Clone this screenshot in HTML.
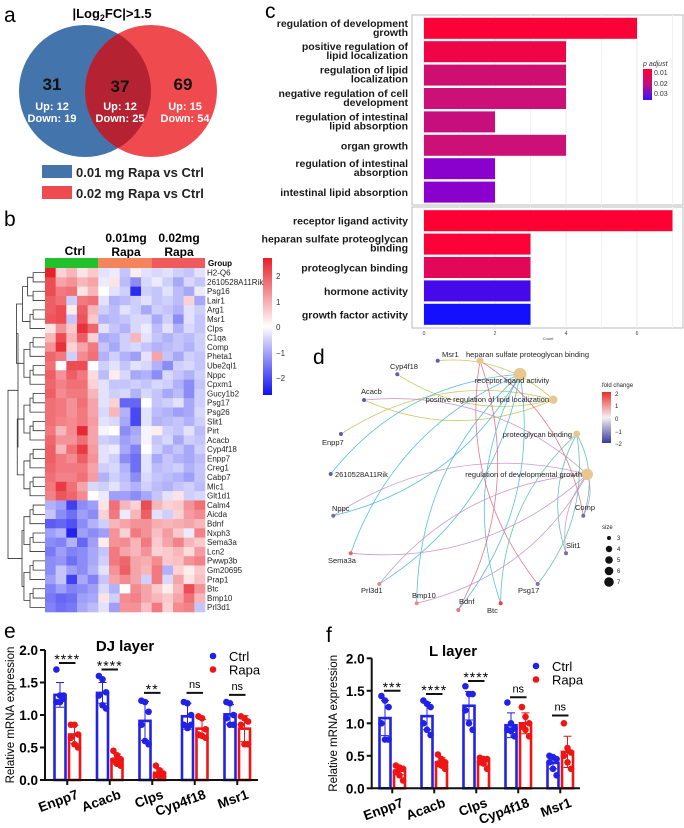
<!DOCTYPE html>
<html><head><meta charset="utf-8">
<style>
html,body{margin:0;padding:0;background:#fff;}
svg{display:block;font-family:"Liberation Sans",sans-serif;}
</style></head>
<body>
<svg id="fig" width="684" height="828" viewBox="0 0 684 828" xmlns="http://www.w3.org/2000/svg">
<defs>
<clipPath id="blueClip"><circle cx="85" cy="91" r="66"/></clipPath>
<linearGradient id="hmGrad" x1="0" y1="0" x2="0" y2="1">
<stop offset="0" stop-color="#e8202a"/><stop offset="0.5" stop-color="#ffffff"/><stop offset="1" stop-color="#1010f0"/></linearGradient>
<linearGradient id="pGrad" x1="0" y1="0" x2="0" y2="1">
<stop offset="0" stop-color="#ff0033"/><stop offset="0.5" stop-color="#c0107f"/><stop offset="1" stop-color="#3a10ff"/></linearGradient>
<linearGradient id="fcGrad" x1="0" y1="0" x2="0" y2="1">
<stop offset="0" stop-color="#e8302a"/><stop offset="0.5" stop-color="#f4f0f4"/><stop offset="1" stop-color="#3a3a9a"/></linearGradient>
</defs>

<!-- Panel a -->
<g>
<text x="4" y="22" font-size="21">a</text>
<text x="112" y="18" font-size="13" font-weight="bold" text-anchor="middle">|Log<tspan font-size="9" dy="3">2</tspan><tspan dy="-3">FC|&gt;1.5</tspan></text>
<circle cx="85" cy="91" r="66" fill="#4474ac"/>
<circle cx="151" cy="91" r="66" fill="#ef4a4e"/>
<circle cx="151" cy="91" r="66" fill="#b52232" clip-path="url(#blueClip)"/>
<g font-weight="bold" text-anchor="middle">
<text x="52" y="90" font-size="17" fill="#111">31</text>
<text x="120" y="92" font-size="17" fill="#111">37</text>
<text x="183" y="90" font-size="17" fill="#111">69</text>
<g font-size="11" fill="#fff">
<text x="52" y="110">Up: 12</text>
<text x="52" y="122">Down: 19</text>
<text x="120" y="110">Up: 12</text>
<text x="120" y="122">Down: 25</text>
<text x="185" y="110">Up: 15</text>
<text x="185" y="122">Down: 54</text>
</g></g>
<rect x="42" y="165" width="30" height="13" fill="#4474ac"/>
<text x="76" y="177" font-size="13" font-weight="bold" fill="#222">0.01 mg Rapa vs Ctrl</text>
<rect x="42" y="186" width="30" height="13" fill="#ef4a4e"/>
<text x="76" y="198" font-size="13" font-weight="bold" fill="#222">0.02 mg Rapa vs Ctrl</text>
</g>

<!-- Panel b -->
<g id="panelB">
<text x="4" y="226" font-size="21">b</text>
<text x="75" y="255" font-size="12" font-weight="bold" text-anchor="middle">Ctrl</text>
<text x="126" y="242" font-size="12" font-weight="bold" text-anchor="middle">0.01mg</text>
<text x="126" y="256" font-size="12" font-weight="bold" text-anchor="middle">Rapa</text>
<text x="179" y="242" font-size="12" font-weight="bold" text-anchor="middle">0.02mg</text>
<text x="179" y="256" font-size="12" font-weight="bold" text-anchor="middle">Rapa</text>
<rect x="45" y="258" width="53.3" height="10" fill="#22c02a"/>
<rect x="98.3" y="258" width="53.3" height="10" fill="#f4845c"/>
<rect x="151.6" y="258" width="53.4" height="10" fill="#f05a5a"/>
<text x="208" y="266" font-size="8" font-weight="bold">Group</text>
<rect x="263" y="258" width="9" height="137" fill="url(#hmGrad)"/>
<g font-size="8" fill="#333">
<text x="276" y="279">2</text>
<text x="276" y="305">1</text>
<text x="276" y="330">0</text>
<text x="276" y="356">−1</text>
<text x="276" y="381">−2</text>
</g>
</g>

<!-- Panel c -->
<g id="panelC">
<text x="265" y="18" font-size="21">c</text>
<rect x="412" y="15" width="271" height="190" fill="#fff" stroke="#bbb"/>
<rect x="412" y="207" width="271" height="121" fill="#fff" stroke="#bbb"/>
<text x="643" y="66" font-size="7" font-style="italic" fill="#333">p adjust</text>
<rect x="643" y="69" width="9" height="31" fill="url(#pGrad)"/>
<g font-size="7" fill="#333">
<text x="654" y="75">0.01</text>
<text x="654" y="86">0.02</text>
<text x="654" y="96">0.03</text>
</g>
<text x="548" y="340" font-size="4" text-anchor="middle" fill="#444">Count</text>
</g>

<!-- Panel d -->
<g id="panelD">
<text x="313" y="364" font-size="21">d</text>
<text x="602" y="387" font-size="6" fill="#222">fold change</text>
<rect x="602" y="392" width="9" height="51" fill="url(#fcGrad)"/>
<g font-size="6" fill="#222">
<text x="615" y="396">2</text>
<text x="615" y="408">1</text>
<text x="615" y="421">0</text>
<text x="615" y="434">−1</text>
<text x="615" y="446">−2</text>
<text x="602" y="529">size</text>
<circle cx="609" cy="538" r="2" fill="#111"/><text x="617" y="540">3</text>
<circle cx="609" cy="549" r="3.2" fill="#111"/><text x="617" y="551">4</text>
<circle cx="609" cy="560" r="3.8" fill="#111"/><text x="617" y="562">5</text>
<circle cx="609" cy="571" r="4.3" fill="#111"/><text x="617" y="573">6</text>
<circle cx="609" cy="582" r="4.8" fill="#111"/><text x="617" y="584">7</text>
</g>
</g>

<g id="panelE">
<text x="4" y="638" font-size="21">e</text>
</g>
<g id="panelF">
<text x="326" y="642" font-size="21">f</text>
</g>
</svg>

<script>
// ---------- heatmap data ----------
const hmGenes = ["H2-Q6","2610528A11Rik","Psg16","Lair1","Arg1","Msr1","Clps","C1qa","Comp","Pheta1","Ube2ql1","Nppc","Cpxm1","Gucy1b2","Psg17","Psg26","Slit1","Pirt","Acacb","Cyp4f18","Enpp7","Creg1","Cabp7","Mlc1","Glt1d1","Calm4","Aicda","Bdnf","Nxph3","Sema3a","Lcn2","Pwwp3b","Gm20695","Prap1","Btc","Bmp10","Prl3d1"];
const hmValues = [
[2.5,0.5,0.8,0.3,0.6,-0.3,-0.2,-0.6,0.2,-0.3,-0.4,-0.3,-0.5,-0.6,-0.3],
[2.0,1.0,1.2,0.8,1.0,-0.2,0.3,-0.7,-1.2,-0.4,-0.2,-0.5,-0.9,-0.4,-0.6],
[2.0,1.5,1.6,0.3,0.8,0.0,-0.3,-0.5,-2.2,-0.5,-0.6,-0.3,-0.7,-0.9,-0.2],
[1.8,1.6,-0.5,1.5,1.6,-0.3,-0.8,-0.7,-0.5,-0.3,-0.6,-0.5,-0.7,0.5,-0.9],
[1.8,2.0,0.2,1.8,0.8,-0.5,-0.7,-0.3,-0.5,-0.9,-0.5,-0.6,-0.8,-0.3,-0.5],
[1.9,2.0,-0.6,1.9,0.6,-0.8,-0.7,-0.6,-0.4,-0.4,-0.9,-0.5,-1.2,-0.3,-0.6],
[0.3,1.2,0.6,2.3,1.7,-0.3,-0.6,-0.8,-0.4,-0.2,-0.7,-0.3,-0.8,-0.4,-0.6],
[0.8,2.0,0.8,1.8,0.5,-0.9,-0.8,-0.5,0.8,-0.3,-0.6,-0.8,-0.6,-0.7,-0.5],
[1.2,2.3,0.5,1.0,1.5,-0.6,-0.9,-0.5,-0.4,-0.6,-0.8,-0.7,-0.6,-0.8,-0.5],
[1.7,1.5,-0.5,1.3,1.6,-0.8,-0.5,-0.8,-1.0,-0.3,1.0,-0.6,-0.9,-0.5,-0.6],
[1.6,0.0,2.0,2.0,0.0,-0.5,-0.3,-0.6,-0.3,-0.4,-0.8,-1.2,-0.5,-0.4,-0.6],
[1.8,1.2,1.8,1.5,0.4,-0.7,0.2,-0.4,-0.9,-0.8,-1.2,-0.4,-0.6,-0.8,-0.5],
[1.7,1.4,1.6,1.6,0.5,-0.3,-0.6,-0.6,-0.5,-0.6,-0.4,-0.5,-0.8,-1.2,-0.6],
[1.8,1.3,1.5,1.5,0.8,-0.3,-0.5,-0.4,-0.8,-0.4,-0.6,-0.9,-0.7,-1.2,-0.5],
[1.6,1.5,1.2,1.6,1.0,-0.3,0.5,-1.6,-1.6,0.0,-0.6,-0.5,-0.3,-0.9,-0.5],
[1.6,1.5,1.2,1.5,1.0,-0.4,0.8,-0.8,-1.9,-0.3,-0.7,-0.8,-1.0,-0.9,-0.4],
[1.6,1.4,1.3,1.5,1.1,-0.3,-0.4,-0.9,-1.9,-0.3,-0.8,-0.7,-0.6,-0.8,-0.5],
[1.5,0.8,1.3,2.4,1.0,-0.1,0.0,-1.2,-0.9,-0.1,0.2,-0.5,-0.6,-0.3,-0.7],
[1.7,1.2,1.2,1.6,1.0,-0.5,-0.6,-1.0,-0.8,-0.1,-0.6,-0.4,-0.9,-0.5,-0.6],
[1.8,0.8,1.6,2.2,1.1,-0.3,-0.2,-0.9,-1.3,0.0,-0.5,-0.8,-0.6,-0.9,-0.5],
[1.8,1.5,1.3,1.8,1.2,-0.3,-0.5,-1.2,-1.5,-0.3,-0.9,-0.6,-0.8,-0.9,-0.7],
[1.7,1.5,1.5,1.5,1.0,-0.5,-0.4,-0.8,-1.5,-0.3,-0.7,-0.6,-0.5,-0.8,-0.6],
[1.6,1.4,1.4,1.6,1.1,-0.8,-0.5,-0.7,-1.2,-0.4,-0.6,-0.7,-0.8,-1.0,-0.6],
[1.5,2.2,1.6,1.0,-0.4,-0.5,-0.3,-0.6,-0.8,-0.5,-0.7,-0.8,-0.6,-0.5,-0.7],
[1.4,1.9,1.7,1.3,0.0,-0.2,-1.0,-1.0,-1.2,-0.9,-0.6,-0.3,0.3,-0.5,-0.4],
[-0.8,-1.0,-2.0,-1.2,-1.0,0.3,1.6,0.8,0.5,2.0,0.8,0.5,0.6,1.2,1.6],
[-0.6,-1.2,-1.5,-1.0,-1.2,0.5,1.5,-0.2,0.8,1.8,-0.3,-0.5,0.5,1.1,1.3],
[-1.7,-1.6,-1.8,-1.2,-0.8,-0.5,0.8,1.0,1.2,1.2,0.9,0.8,0.9,1.0,0.8],
[-1.0,-0.8,-2.3,-1.0,-1.2,-1.0,1.2,0.5,1.5,1.2,0.7,1.1,0.6,-0.2,1.4],
[-1.2,-1.3,-0.8,-1.6,-1.0,0.2,1.2,1.3,0.8,1.5,0.6,1.0,1.4,0.8,0.6],
[-1.4,-1.0,-1.3,-1.2,-0.9,-0.6,1.5,1.0,0.8,1.2,0.5,0.6,0.8,0.4,1.1],
[-1.2,-1.1,-1.5,-1.2,-0.9,-0.5,1.5,1.7,1.0,0.9,1.3,0.6,0.7,1.2,1.4],
[-1.2,-0.6,-1.0,-1.2,-0.8,-0.3,1.2,1.8,1.0,0.8,1.5,-0.8,0.5,0.2,0.6],
[-1.0,-0.6,-2.0,-0.9,-1.3,-0.6,1.0,1.3,1.0,-0.5,1.5,-0.4,1.0,0.3,0.7],
[-1.3,-1.0,-1.3,-1.2,-1.0,-0.4,-0.8,0.0,1.3,1.0,0.6,0.2,0.8,2.0,1.2],
[-1.4,-1.6,-1.5,-1.0,-0.9,0.3,-0.5,1.3,1.4,1.0,0.8,0.6,1.0,1.6,0.8],
[-1.3,-1.5,-1.4,-0.9,-0.7,-0.3,-1.0,1.2,1.2,0.7,1.5,0.5,1.3,1.4,-0.6]
];

// ---------- GO bar data ----------
const goBpTerms = [["regulation of development","growth"],["positive regulation of","lipid localization"],["regulation of lipid","localization"],["negative regulation of cell","development"],["regulation of intestinal","lipid absorption"],["organ growth"],["regulation of intestinal","absorption"],["intestinal lipid absorption"]];
const goBpCounts = [6,4,4,4,2,4,2,2];
const goBpPadj = [0.005,0.008,0.016,0.017,0.018,0.017,0.031,0.031];
const goMfTerms = [["receptor ligand activity"],["heparan sulfate proteoglycan","binding"],["proteoglycan binding"],["hormone activity"],["growth factor activity"]];
const goMfCounts = [7,3,3,3,3];
const goMfPadj = [0.004,0.005,0.011,0.035,0.038];
const goTicks = [0,2,4,6];

// ---------- qPCR data ----------
const qGenes = ["Enpp7","Acacb","Clps","Cyp4f18","Msr1"];
const qTicks = [0,0.5,1.0,1.5,2.0];
const djCtrlMean = [1.31,1.34,0.91,0.98,1.01];
const djCtrlSd = [0.19,0.16,0.30,0.20,0.15];
const djRapaMean = [0.70,0.32,0.11,0.79,0.79];
const djRapaSd = [0.14,0.08,0.06,0.14,0.20];
const djCtrlPts = [[1.7,1.3,1.25,1.2,1.2,1.3],[1.6,1.55,1.35,1.3,1.15,1.1],[1.22,1.2,1.05,0.85,0.6,0.55],[1.2,1.18,1.0,0.85,0.8,0.85],[1.2,1.18,1.0,0.95,0.85,0.85]];
const djRapaPts = [[0.85,0.85,0.7,0.65,0.55,0.5],[0.45,0.38,0.32,0.3,0.25,0.22],[0.22,0.15,0.1,0.08,0.05,0.05],[0.98,0.95,0.78,0.7,0.68,0.65],[0.98,0.95,0.9,0.85,0.55,0.55]];
const djSig = ["****","****","**","ns","ns"];
const djSigLevel = [1.8,1.7,1.34,1.34,1.31];
const lCtrlMean = [1.08,1.11,1.27,0.97,0.39];
const lCtrlSd = [0.27,0.21,0.22,0.19,0.09];
const lRapaMean = [0.27,0.40,0.42,1.00,0.56];
const lRapaSd = [0.06,0.07,0.06,0.16,0.24];
const lCtrlPts = [[1.42,1.35,1.25,1.0,0.75,0.75],[1.35,1.3,1.25,1.0,0.9,0.82],[1.57,1.45,1.45,1.2,1.0,0.9],[1.32,1.0,0.92,0.9,0.88,0.8],[0.5,0.48,0.45,0.4,0.3,0.2]];
const lRapaPts = [[0.35,0.32,0.3,0.25,0.2,0.12],[0.52,0.45,0.4,0.38,0.35,0.3],[0.47,0.45,0.45,0.4,0.38,0.3],[1.25,1.1,1.0,0.95,0.9,0.8],[1.0,0.62,0.55,0.5,0.4,0.3]];
const lSig = ["***","****","****","ns","ns"];
const lSigLevel = [1.5,1.45,1.65,1.4,1.12];

// ---------- network data ----------
const netGenes = [
 {n:"Msr1",x:437.7,y:360.7,fc:-1.8,lx:442,ly:357,a:"start"},
 {n:"Cyp4f18",x:397.3,y:374.3,fc:-1.8,lx:390,ly:369,a:"start"},
 {n:"Acacb",x:364,y:400,fc:-1.8,lx:361,ly:394,a:"start"},
 {n:"Enpp7",x:341,y:434,fc:-1.8,lx:322,ly:445,a:"start"},
 {n:"2610528A11Rik",x:330.7,y:474,fc:-1.8,lx:335,ly:477,a:"start"},
 {n:"Nppc",x:333.3,y:515.7,fc:-1.6,lx:332,ly:511,a:"start"},
 {n:"Sema3a",x:350.7,y:553.3,fc:1.6,lx:328,ly:563,a:"start"},
 {n:"Prl3d1",x:379.3,y:584,fc:1.2,lx:361,ly:593,a:"start"},
 {n:"Bmp10",x:416.7,y:603.3,fc:1.2,lx:412,ly:598,a:"start"},
 {n:"Bdnf",x:458.3,y:610,fc:1.4,lx:459,ly:604,a:"start"},
 {n:"Btc",x:500.7,y:603.3,fc:2.0,lx:487,ly:613,a:"start"},
 {n:"Psg17",x:537.7,y:584,fc:-1.5,lx:518,ly:593,a:"start"},
 {n:"Slit1",x:566,y:553.3,fc:-1.6,lx:566,ly:548,a:"start"},
 {n:"Comp",x:583.3,y:515.7,fc:-1.6,lx:575,ly:510,a:"start"}
];
const netCats = [
 {n:"heparan sulfate proteoglycan binding",x:480,y:360.7,s:3,lx:466,ly:357,a:"start",c:"#e0607a"},
 {n:"receptor ligand activity",x:520,y:374.3,s:7,lx:512,ly:383,a:"middle",c:"#38b4dc"},
 {n:"positive regulation of lipid localization",x:553.3,y:399.7,s:4,lx:549,ly:402,a:"end",c:"#c4bc48"},
 {n:"proteoglycan binding",x:576.7,y:434,s:3,lx:572,ly:437,a:"end",c:"#4cb8a4"},
 {n:"regulation of developmental growth",x:587.3,y:474.3,s:6,lx:582,ly:477,a:"end",c:"#c08cc0"}
];
const netEdges = [
 ["Msr1",2],["Cyp4f18",2],["Enpp7",2],["Acacb",2],
 ["2610528A11Rik",1],["Nppc",1],["Sema3a",1],["Prl3d1",1],["Bmp10",1],["Bdnf",1],["Btc",1],
 ["Comp",0],["Psg17",0],["Bdnf",0],
 ["Slit1",3],["Comp",3],["Btc",3],["Psg17",3],
 ["Nppc",4],["Sema3a",4],["Acacb",4],["Comp",4],["Slit1",4],["Bmp10",4],["Prl3d1",4]
];

const NS="http://www.w3.org/2000/svg";
function mk(parent, tag, attrs, txt){
  const e=document.createElementNS(NS,tag);
  for(const k in attrs) e.setAttribute(k,attrs[k]);
  if(txt!==undefined) e.textContent=txt;
  parent.appendChild(e);
  return e;
}

// ---------- heatmap ----------
(function(){
  const g=document.getElementById('panelB');
  const x0=45, y0=268, cw=160/15, rh=344/37;
  const hmX=c=>x0+c*cw, hmY=r=>y0+r*rh;
  function col(v){
    const t=Math.max(-1,Math.min(1,v/2.5));
    let r,gg,b;
    if(t>=0){r=255-t*23;gg=255-t*223;b=255-t*213;}
    else{const u=-t;r=255-u*239;gg=255-u*239;b=255-u*15;}
    return `rgb(${r|0},${gg|0},${b|0})`;
  }
  hmValues.forEach((row,r)=>{
    row.forEach((v,c)=>{
      const e=mk(g,'rect',{x:hmX(c),y:hmY(r),width:cw+0.3,height:rh+0.3,fill:col(v)});
      
      
    });
    const t=mk(g,'text',{x:207,y:hmY(r)+rh-1.8,'font-size':8,fill:'#222'},hmGenes[r]);
    
    
  });
  const dg=mk(g,'g',{stroke:'#333','stroke-width':0.8,fill:'none'});
  
  
  function build(a,b,xRoot){
    if(a===b) return {y:hmY(a)+rh/2,x:45};
    const m=Math.floor((a+b)/2);
    const span=b-a+1;
    const xn=Math.max(8,45-Math.log2(span+1)*7.5);
    const L=build(a,m), R=build(m+1,b);
    const x=xRoot!==undefined?xRoot:xn;
    mk(dg,'path',{d:`M${L.x},${L.y}H${x}V${R.y}H${R.x}`});
    return {x:x,y:(L.y+R.y)/2};
  }
  const top=build(0,24,18), bot=build(25,36,22);
  mk(dg,'path',{d:`M${top.x},${top.y}H8V${bot.y}H${bot.x}`});
})();

// ---------- GO bar chart ----------
(function(){
  const g=document.getElementById('panelC');
  const xS=v=>424+v*35.5;
  const stops=[[0.004,[255,0,51]],[0.017,[204,16,119]],[0.031,[138,0,204]],[0.038,[20,16,255]]];
  function pcol(p){
    for(let i=0;i<stops.length-1;i++){
      const [p0,c0]=stops[i],[p1,c1]=stops[i+1];
      if(p<=p1||i===stops.length-2){
        const t=Math.max(0,Math.min(1,(p-p0)/(p1-p0)));
        return `rgb(${(c0[0]+(c1[0]-c0[0])*t)|0},${(c0[1]+(c1[1]-c0[1])*t)|0},${(c0[2]+(c1[2]-c0[2])*t)|0})`;
      }
    }
  }
  [1,3,5,7].forEach(v=>{
    mk(g,'line',{x1:xS(v),x2:xS(v),y1:15,y2:205,stroke:'#f2f2f2'});
    mk(g,'line',{x1:xS(v),x2:xS(v),y1:207,y2:328,stroke:'#f2f2f2'});
  });
  goTicks.forEach(v=>{
    mk(g,'line',{x1:xS(v),x2:xS(v),y1:15,y2:205,stroke:'#e8e8e8'});
    mk(g,'line',{x1:xS(v),x2:xS(v),y1:207,y2:328,stroke:'#e8e8e8'});
    const t=mk(g,'text',{x:xS(v),y:335,'font-size':5,'text-anchor':'middle',fill:'#444'},String(v));
    
    
  });
  function panel(terms,counts,padj,y0,step,pfx){
    terms.forEach((lines,i)=>{
      const cy=y0+i*step;
      const b=mk(g,'rect',{x:xS(0),y:cy-10.5,width:xS(counts[i])-xS(0),height:21,fill:pcol(padj[i])});
      
      
      const t=mk(g,'text',{x:408,y:lines.length>1?cy-1.5:cy+4,'font-size':10.5,'font-weight':'bold','text-anchor':'end',fill:'#1a1a1a'});
      
      
      lines.forEach((ln,k)=>{mk(t,'tspan',{x:408,dy:k?9:0},ln);});
    });
  }
  panel(goBpTerms,goBpCounts,goBpPadj,28.3,23.4,'go-bp');
  panel(goMfTerms,goMfCounts,goMfPadj,220.7,23.4,'go-mf');
})();

// ---------- network ----------
(function(){
  const g=document.getElementById('panelD');
  const eg=mk(g,'g',{fill:'none','stroke-width':0.8});
  
  
  const byName={}; netGenes.forEach(n=>byName[n.n]=n);
  netEdges.forEach(([gn,ci],i)=>{
    const a=byName[gn], c=netCats[ci];
    const mx=(a.x+c.x)/2, my=(a.y+c.y)/2, dx=c.x-a.x, dy=c.y-a.y;
    const s=(i%2?0.22:-0.22);
    const p=mk(eg,'path',{d:`M${a.x},${a.y}Q${mx-dy*s},${my+dx*s} ${c.x},${c.y}`,stroke:c.c,opacity:0.85});
    
    
  });
  function fcCol(v){
    if(v>=0){const t=Math.min(1,v/2.2);return `rgb(${(244-t*12)|0},${(240-t*190)|0},${(244-t*200)|0})`;}
    const t=Math.min(1,-v/2.2);return `rgb(${(244-t*180)|0},${(240-t*180)|0},${(244-t*90)|0})`;
  }
  netCats.forEach(c=>{
    const n=mk(g,'circle',{cx:c.x,cy:c.y,r:1.2+c.s*0.75,fill:'#e8c890'});
    
    
    const t=mk(g,'text',{x:c.lx,y:c.ly,'font-size':7.5,'text-anchor':c.a,fill:'#222'},c.n);
    
    
  });
  netGenes.forEach(n=>{
    const c=mk(g,'circle',{cx:n.x,cy:n.y,r:2,fill:fcCol(n.fc)});
    
    
    const t=mk(g,'text',{x:n.lx,y:n.ly,'font-size':7.5,'text-anchor':n.a,fill:'#222'},n.n);
    
    
  });
})();

// ---------- qPCR bar charts ----------
function qpcr(gid,cfg){
  const g=document.getElementById(gid);
  const yS=v=>cfg.y0-v*65;
  const ctrlX=i=>cfg.cx0+i*cfg.step, rapaX=i=>ctrlX(i)+14.5;
  const ttl=mk(g,'text',{x:cfg.titleX,y:cfg.titleY,'font-size':15,'font-weight':'bold','text-anchor':'middle'},cfg.title);
  
  
  const yt=mk(g,'text',{x:0,y:0,'font-size':11.5,'text-anchor':'middle',transform:`translate(${cfg.ylabX},${cfg.y0-65})rotate(-90)`},'Relative mRNA expression');
  
  
  qTicks.forEach(v=>{
    mk(g,'line',{x1:cfg.ax-5,x2:cfg.ax,y1:yS(v),y2:yS(v),stroke:'#111','stroke-width':2});
    const t=mk(g,'text',{x:cfg.ax-7,y:yS(v)+5,'font-size':13.5,'font-weight':'bold','text-anchor':'end'},v.toFixed(1));
    
    
  });
  function series(mean,sd,pts,xf,color,nm){
    mean.forEach((m,i)=>{
      const x=xf(i);
      const b=mk(g,'rect',{x:x-5.5,y:yS(m),width:11,height:yS(0)-yS(m),fill:'#fff',stroke:color,'stroke-width':2.6});
      
      
      mk(g,'path',{d:`M${x},${yS(m-sd[i])}V${yS(m+sd[i])}M${x-4},${yS(m+sd[i])}H${x+4}M${x-4},${yS(m-sd[i])}H${x+4}`,stroke:color,'stroke-width':1,fill:'none'});
      pts[i].forEach((p,k)=>{
        const d=mk(g,'circle',{cx:x+((k%3)-1)*3.6,cy:yS(p),r:3.3,fill:color});
        
        
      });
    });
  }
  series(cfg.cm,cfg.cs,cfg.cp,ctrlX,'#2222e6','ctrl');
  series(cfg.rm,cfg.rs,cfg.rp,rapaX,'#ee1515','rapa');
  mk(g,'line',{x1:cfg.ax,x2:cfg.ax,y1:yS(2),y2:yS(0)+1,stroke:'#111','stroke-width':2});
  mk(g,'line',{x1:cfg.ax-1,x2:cfg.axEnd,y1:yS(0),y2:yS(0),stroke:'#111','stroke-width':2});
  qGenes.forEach((gn,i)=>{
    const xm=(ctrlX(i)+rapaX(i))/2;
    mk(g,'line',{x1:xm,x2:xm,y1:yS(0),y2:yS(0)+5,stroke:'#111','stroke-width':2});
    const t=mk(g,'text',{x:0,y:0,'font-size':13.5,'font-weight':'bold','text-anchor':'end',transform:`translate(${xm+12},${yS(0)+18})rotate(-20)`},gn);
    
    
    const ly=yS(cfg.sl[i]);
    mk(g,'line',{x1:ctrlX(i)-1,x2:rapaX(i)+1,y1:ly,y2:ly,stroke:'#111','stroke-width':2});
    const st=mk(g,'text',{x:xm,y:cfg.sig[i]==='ns'?ly-5:ly+1,'font-size':cfg.sig[i]==='ns'?11:14,'text-anchor':'middle','letter-spacing':cfg.sig[i]==='ns'?0:1},cfg.sig[i]);
    
    
  });
  const l1=mk(g,'circle',{cx:cfg.legX,cy:cfg.legY,r:3.3,fill:'#2222e6'});
  
  
  const l2=mk(g,'text',{x:cfg.legX+16,y:cfg.legY+5,'font-size':13},'Ctrl');
  
  
  const l3=mk(g,'circle',{cx:cfg.legX,cy:cfg.legY+13.5,r:3.3,fill:'#ee1515'});
  
  
  const l4=mk(g,'text',{x:cfg.legX+16,y:cfg.legY+18.5,'font-size':13},'Rapa');
  
  
}
qpcr('panelE',{title:'DJ layer',titleX:125,titleY:651,ylabX:14,y0:780,ax:45,axEnd:258,cx0:60,step:42.5,
  cm:djCtrlMean,cs:djCtrlSd,cp:djCtrlPts,rm:djRapaMean,rs:djRapaSd,rp:djRapaPts,sig:djSig,sl:djSigLevel,legX:213,legY:656});
qpcr('panelF',{title:'L layer',titleX:453,titleY:656,ylabX:337,y0:788.3,ax:371.7,axEnd:580,cx0:385,step:42,
  cm:lCtrlMean,cs:lCtrlSd,cp:lCtrlPts,rm:lRapaMean,rs:lRapaSd,rp:lRapaPts,sig:lSig,sl:lSigLevel,legX:536,legY:666});
</script>
</body></html>
